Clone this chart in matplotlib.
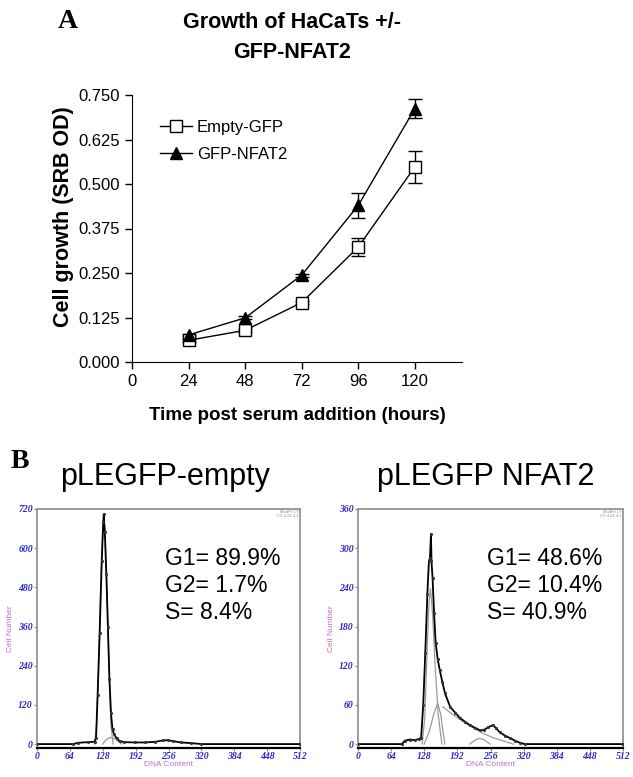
import matplotlib
matplotlib.use("Agg")
import matplotlib.pyplot as plt

plt.rcParams['font.family'] = ['Liberation Sans', 'DejaVu Sans']

# panel A: growth curve
hours = [24, 48, 72, 96, 120]
empty_gfp = [0.061, 0.089, 0.167, 0.323, 0.548]
empty_err = [0.004, 0.004, 0.004, 0.026, 0.045]
nfat2 = [0.076, 0.124, 0.244, 0.440, 0.712]
nfat2_err = [0.004, 0.004, 0.004, 0.036, 0.026]
x_ticks_a = [0, 24, 48, 72, 96, 120]
y_ticks_a = [0.000, 0.125, 0.250, 0.375, 0.500, 0.625, 0.750]

# panel B: DNA content histograms
empty_dna = [0, 70, 80, 100, 112, 115, 118, 122, 126, 129, 130, 132, 135, 138, 141,
             144, 147, 150, 155, 161, 170, 190, 210, 230, 245, 255, 265, 280, 300, 320, 512]
empty_cells = [0, 0, 4, 6, 7, 20, 150, 340, 560, 680, 704, 650, 520, 360, 200,
               95, 45, 30, 18, 9, 6, 5, 5, 7, 11, 12, 9, 5, 3, 0, 0]
empty_g1_dna = [112, 116, 120, 124, 128, 130, 132, 136, 140, 144, 148]
empty_g1_fit = [0, 60, 250, 480, 660, 690, 660, 480, 250, 60, 0]
empty_s_dna = [128, 135, 142, 150, 158, 165]
empty_s_fit = [0, 14, 20, 18, 8, 0]

nfat_dna = [0, 85, 90, 100, 110, 118, 122, 126, 130, 134, 137, 139, 141, 142, 144, 147,
            150, 154, 158, 163, 168, 178, 188, 197, 207, 216, 226, 236, 244, 252, 261,
            267, 274, 284, 294, 304, 313, 322, 512]
nfat_cells = [0, 0, 5, 7, 6, 8, 10, 60, 140, 230, 280, 285, 321, 280, 255, 200,
              155, 130, 113, 95, 78, 57, 48, 40, 34, 29, 25, 21, 22, 26, 29,
              24, 18, 13, 9, 5, 2, 0, 0]
nfat_g1_dna = [124, 129, 133, 137, 140, 144, 149, 155, 162]
nfat_g1_fit = [0, 40, 130, 215, 238, 200, 120, 45, 0]
nfat_s1_dna = [128, 138, 146, 154, 160, 164, 168]
nfat_s1_fit = [0, 20, 45, 63, 45, 20, 0]
nfat_s2_dna = [164, 180, 200, 220, 240, 260, 280, 300]
nfat_s2_fit = [57, 47, 36, 26, 17, 10, 5, 0]
nfat_g2_dna = [216, 226, 235, 245, 255]
nfat_g2_fit = [0, 6, 9, 6, 0]

x_ticks_b = [0, 64, 128, 192, 256, 320, 384, 448, 512]

fig = plt.figure(figsize=(6.33, 7.77), dpi=100)

# ---- panel A ----
ax = fig.add_axes([132/633, 1 - 362/777, 330/633, 267/777])
ax.errorbar(hours, empty_gfp, yerr=empty_err, fmt='none', ecolor='black',
            capsize=5, elinewidth=1, zorder=2)
ax.errorbar(hours, nfat2, yerr=nfat2_err, fmt='none', ecolor='black',
            capsize=5, elinewidth=1, zorder=2)
ax.plot(hours, empty_gfp, color='black', lw=1, marker='s', ms=9, mfc='white',
        mec='black', mew=1, label='Empty-GFP', zorder=3)
ax.plot(hours, nfat2, color='black', lw=1, marker='^', ms=9, mfc='black',
        mec='black', label='GFP-NFAT2', zorder=3)
ax.set_xlim(0, 140)
ax.set_ylim(0, 0.75)
ax.set_xticks(x_ticks_a)
ax.set_yticks(y_ticks_a)
ax.set_yticklabels([f'{v:.3f}' for v in y_ticks_a])
ax.spines['top'].set_visible(False)
ax.spines['right'].set_visible(False)
ax.tick_params(labelsize=12, length=5, width=1)
ax.legend(loc='upper left', bbox_to_anchor=(0.085, 0.907), frameon=False,
          fontsize=12, handlelength=1.9, borderpad=0, handletextpad=0.3,
          labelspacing=0.74, borderaxespad=0)
fig.text(292/633, 1 - 22/777, 'Growth of HaCaTs +/-', ha='center', va='center',
         fontsize=15.5, fontweight='bold')
fig.text(292/633, 1 - 52/777, 'GFP-NFAT2', ha='center', va='center',
         fontsize=15.5, fontweight='bold')
fig.text(297/633, 1 - 415/777, 'Time post serum addition (hours)', ha='center',
         va='center', fontsize=13.5, fontweight='bold')
fig.text(63/633, 1 - 217/777, 'Cell growth (SRB OD)', ha='center', va='center',
         rotation=90, fontsize=15.5, fontweight='bold')
fig.text(68/633, 1 - 22/777, 'A', ha='center', va='center', fontsize=20,
         fontweight='bold', family='Liberation Serif')
fig.text(20/633, 1 - 462/777, 'B', ha='center', va='center', fontsize=20,
         fontweight='bold', family='Liberation Serif')


# ---- panel B ----
def histo(rect, dna, cells, fits, ymax, yticks, title, title_x, stats):
    hx = fig.add_axes(rect)
    for fx, fy in fits:
        hx.plot(fx, fy, color='#9a9a9a', lw=0.9, zorder=2)
    hx.plot(dna, cells, color='black', lw=1.3, zorder=3)
    hx.plot(dna, cells, ls='none', marker='.', ms=2.5, color='#333333', zorder=3)
    hx.set_xlim(0, 512)
    hx.set_ylim(-ymax / 60, ymax)
    hx.set_xticks(x_ticks_b)
    hx.set_yticks(yticks)
    for s in ['top', 'right', 'left']:
        hx.spines[s].set_color('#8c8c8c')
        hx.spines[s].set_linewidth(1.2)
    hx.spines['bottom'].set_linewidth(1.6)
    hx.tick_params(axis='both', labelsize=7, colors='#8c8c8c', labelcolor='#2b2bd0',
                   length=2, width=0.8, pad=1)
    for lab in hx.get_xticklabels() + hx.get_yticklabels():
        lab.set_fontstyle('italic')
        lab.set_fontweight('bold')
        lab.set_family('Liberation Serif')
    hx.set_xlabel('DNA Content', fontsize=6, color='#c070c0', labelpad=0)
    hx.set_ylabel('Cell Number', fontsize=6, color='#c070c0', labelpad=3)
    hx.text(0.995, 0.995, 'ModFit LT\nCV 4.21 3.1', transform=hx.transAxes,
            ha='right', va='top', fontsize=3, color='#888888', linespacing=1.0)
    fig.text(title_x, 1 - 477/777, title, ha='center', va='center', fontsize=22)
    hx.text(0.485, 0.68, stats, transform=hx.transAxes, ha='left', va='center',
            fontsize=16.5, linespacing=1.2)
    return hx


histo([37/633, 1 - 748/777, 263/633, 239/777], empty_dna, empty_cells,
      [(empty_g1_dna, empty_g1_fit), (empty_s_dna, empty_s_fit)],
      720, [0, 120, 240, 360, 480, 600, 720], 'pLEGFP-empty', 165/633,
      'G1= 89.9%\nG2= 1.7%\nS= 8.4%')
histo([358/633, 1 - 748/777, 265/633, 239/777], nfat_dna, nfat_cells,
      [(nfat_g1_dna, nfat_g1_fit), (nfat_s1_dna, nfat_s1_fit),
       (nfat_s2_dna, nfat_s2_fit), (nfat_g2_dna, nfat_g2_fit)],
      360, [0, 60, 120, 180, 240, 300, 360], 'pLEGFP NFAT2', 486/633,
      'G1= 48.6%\nG2= 10.4%\nS= 40.9%')

fig.savefig('out.png', dpi=100)
